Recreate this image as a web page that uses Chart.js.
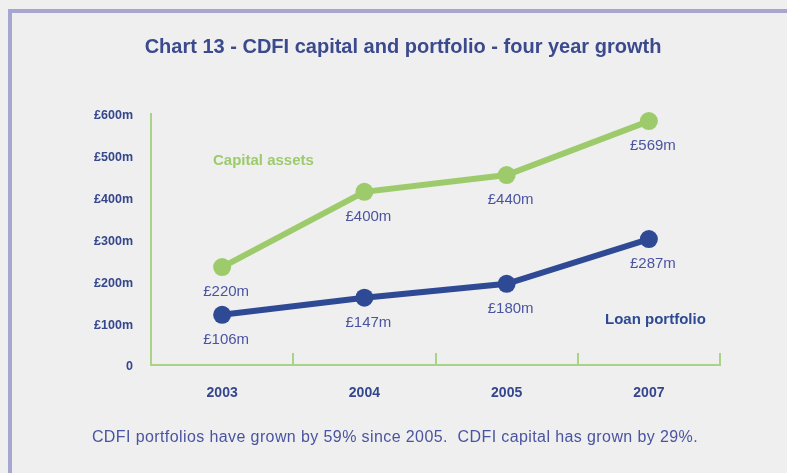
<!DOCTYPE html>
<html>
  <head>
    <script src="https://cdn.jsdelivr.net/npm/chart.js"></script>
    <style>
      html, body { margin: 0; padding: 0; background: #efefef; }
    </style>
  </head>
  <body>
    <canvas id="growth" width="787" height="473"></canvas>

    <script>
      // chart data
      const years = ["2003", "2004", "2005", "2007"];
      const capitalAssets = [220, 400, 440, 569];
      const loanPortfolio = [106, 147, 180, 287];
      const yTicks = [0, 100, 200, 300, 400, 500, 600];

      const titleText = "Chart 13 - CDFI capital and portfolio - four year growth";
      const footText = "CDFI portfolios have grown by 59% since 2005.  CDFI capital has grown by 29%.";

      const green = "#9dcb6c";
      const axisGreen = "#a9d386";
      const blue = "#2f4a94";
      const textBlue = "#4a54a0";
      const tickBlue = "#34468c";

      // frame, title, footer, point labels, series names
      const decorations = {
        id: "decorations",
        beforeDraw(chart) {
          const ctx = chart.ctx;
          ctx.save();
          ctx.fillStyle = "#efefef";
          ctx.fillRect(0, 0, chart.width, chart.height);
          ctx.fillStyle = "#a6a6d0";
          ctx.fillRect(8, 9, chart.width - 8, 4);
          ctx.fillRect(8, 9, 4, chart.height - 9);
          ctx.restore();
        },
        afterDatasetsDraw(chart) {
          const ctx = chart.ctx;
          const area = chart.chartArea;
          const x = chart.scales.x;
          ctx.save();

          // small ticks standing up from the x axis at category edges
          ctx.strokeStyle = axisGreen;
          ctx.lineWidth = 2;
          for (let i = 1; i <= years.length; i++) {
            const px = i < years.length
              ? (x.getPixelForValue(i - 1) + x.getPixelForValue(i)) / 2
              : area.right;
            ctx.beginPath();
            ctx.moveTo(Math.round(px), area.bottom);
            ctx.lineTo(Math.round(px), area.bottom - 12);
            ctx.stroke();
          }

          // value labels under each point
          ctx.font = "15px 'Liberation Sans', Arial, sans-serif";
          ctx.fillStyle = textBlue;
          ctx.textAlign = "center";
          ctx.textBaseline = "middle";
          chart.data.datasets.forEach((ds, di) => {
            chart.getDatasetMeta(di).data.forEach((pt, i) => {
              ctx.fillText("£" + ds.data[i] + "m", pt.x + 4, pt.y + 25);
            });
          });

          // series names
          ctx.font = "bold 15px 'Liberation Sans', Arial, sans-serif";
          ctx.textAlign = "left";
          ctx.fillStyle = green;
          ctx.fillText("Capital assets", area.left + 62, 161);
          ctx.fillStyle = blue;
          ctx.fillText("Loan portfolio", area.right - 115, 320);

          // title
          ctx.textAlign = "center";
          ctx.fillStyle = "#3b4a8c";
          ctx.font = "bold 20px 'Liberation Sans', sans-serif";
          ctx.fillText(titleText, 403, 47);

          // footer
          ctx.fillStyle = textBlue;
          ctx.font = "16px 'Liberation Sans', sans-serif";
          ctx.letterSpacing = "0.4px";
          ctx.fillText(footText, 395, 438);
          ctx.restore();
        }
      };

      const ctx = document.getElementById("growth").getContext("2d");
      new Chart(ctx, {
        type: "line",
        data: {
          labels: years,
          datasets: [
            {
              label: "Capital assets",
              data: capitalAssets,
              borderColor: green,
              backgroundColor: green,
              borderWidth: 6,
              pointRadius: 9,
              pointHoverRadius: 9,
              pointBorderWidth: 0,
              clip: false,
              yAxisID: "yData",
            },
            {
              label: "Loan portfolio",
              data: loanPortfolio,
              borderColor: blue,
              backgroundColor: blue,
              borderWidth: 6,
              pointRadius: 9,
              pointHoverRadius: 9,
              pointBorderWidth: 0,
              clip: false,
              yAxisID: "yData",
            },
          ],
        },
        options: {
          responsive: false,
          animation: false,
          layout: { padding: { top: 114, right: 67, bottom: 0, left: 0 } },
          plugins: {
            legend: { display: false },
            tooltip: { enabled: false },
          },
          scales: {
            x: {
              offset: true,
              grid: { display: false },
              border: { color: axisGreen, width: 2 },
              ticks: {
                color: tickBlue,
                padding: 12,
                font: { family: "'Liberation Sans', Arial, sans-serif", size: 14, weight: "bold" },
              },
              afterFit: (s) => { s.height = 108; },
            },
            y: {
              min: 0,
              max: 600,
              afterBuildTicks: (s) => { s.ticks = yTicks.map((v) => ({ value: v })); },
              grid: { display: false },
              border: { color: axisGreen, width: 2 },
              ticks: {
                color: tickBlue,
                padding: 10,
                labelOffset: 2,
                font: { family: "'Liberation Sans', Arial, sans-serif", size: 12.5, weight: "bold" },
                callback: (v) => (v === 0 ? "0" : "£" + v + "m"),
              },
              afterFit: (s) => { s.width = 151; },
            },
            // the printed chart plots its markers a little above the axis values
            yData: {
              display: false,
              min: -14,
              max: 586,
            },
          },
        },
        plugins: [decorations],
      });
    </script>
  </body>
</html>
